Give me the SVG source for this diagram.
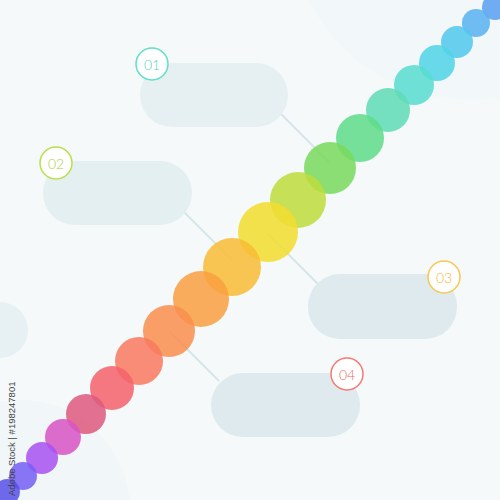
<svg xmlns="http://www.w3.org/2000/svg" width="500" height="500" viewBox="0 0 500 500">
<style>
.pill{fill:#e4eef1}
.badge{fill:#ffffff;stroke-width:1.5}
.num{font-family:Lato,"Noto Sans",sans-serif;font-weight:300;font-size:14px;text-anchor:middle;dominant-baseline:central}
.dot{opacity:0.86}
.conn{stroke:#d6e6ea;stroke-width:2;fill:none}
</style>
<rect width="500" height="500" fill="#f5f9fa"/>
<circle cx="470" cy="-80" r="180" fill="#f2f7f9"/>
<circle cx="20" cy="510" r="110" fill="#f1f6f8"/>
<circle cx="0" cy="330" r="28" fill="#e7f0f3"/>
<g id="connectors">
<line class="conn" x1="280" y1="113" x2="330" y2="163"/>
<line class="conn" x1="182" y1="210" x2="232" y2="260"/>
<line class="conn" x1="318" y1="284" x2="268" y2="234"/>
<line class="conn" x1="219" y1="381" x2="169" y2="331"/>
</g>
<g id="chain">
<circle class="dot" cx="495" cy="7" r="13" fill="#5a9ff0"/>
<circle class="dot" cx="476" cy="23" r="14" fill="#58b2f0"/>
<circle class="dot" cx="457" cy="42" r="16" fill="#52c8ee"/>
<circle class="dot" cx="437" cy="63" r="18" fill="#52d4e6"/>
<circle class="dot" cx="414" cy="85" r="20" fill="#58dccf"/>
<circle class="dot" cx="388" cy="110" r="22" fill="#5edcb4"/>
<circle class="dot" cx="360" cy="138" r="24" fill="#60dc88"/>
<circle class="dot" cx="330" cy="168" r="26" fill="#78da5c"/>
<circle class="dot" cx="298" cy="200" r="28" fill="#bedc3c"/>
<circle class="dot" cx="268" cy="232" r="30" fill="#f2dd2e"/>
<circle class="dot" cx="232" cy="267" r="29" fill="#f8bd36"/>
<circle class="dot" cx="201" cy="299" r="28" fill="#f9a040"/>
<circle class="dot" cx="169" cy="331" r="26" fill="#f98f4e"/>
<circle class="dot" cx="139" cy="361" r="24" fill="#f87a60"/>
<circle class="dot" cx="112" cy="388" r="22" fill="#f4636c"/>
<circle class="dot" cx="86" cy="414" r="20" fill="#de5a7e"/>
<circle class="dot" cx="63" cy="437" r="18" fill="#d955c4"/>
<circle class="dot" cx="42" cy="458" r="16" fill="#a653f0"/>
<circle class="dot" cx="23" cy="476" r="14" fill="#7760f4"/>
<circle class="dot" cx="7" cy="492" r="13" fill="#5752e8"/>
</g>
<g id="node1">
<rect class="pill" x="140" y="63" width="148" height="64" rx="32" style="fill:#e6f0f3"/>
<circle class="badge" cx="152" cy="64" r="16" stroke="#5ee0c8"/>
<text class="num" x="152" y="64" fill="#4fd3bd">01</text>
</g>
<g id="node2">
<rect class="pill" x="43" y="161" width="149" height="64" rx="32" style="fill:#e4eff2"/>
<circle class="badge" cx="56" cy="163" r="16" stroke="#b8e04a"/>
<text class="num" x="56" y="163" fill="#a8d23a">02</text>
</g>
<g id="node3">
<rect class="pill" x="308" y="274" width="149" height="65" rx="32" style="fill:#deeaee"/>
<circle class="badge" cx="444" cy="277" r="16" stroke="#f8c850"/>
<text class="num" x="444" y="277" fill="#f0b83a">03</text>
</g>
<g id="node4">
<rect class="pill" x="211" y="373" width="149" height="64" rx="32" style="fill:#deeaee"/>
<circle class="badge" cx="347" cy="374" r="16" stroke="#f87870"/>
<text class="num" x="347" y="374" fill="#f06a62">04</text>
</g>
<text x="15" y="496" transform="rotate(-90 15 496)" font-family="'Liberation Sans',Arial,sans-serif" font-size="9.5" fill="#444">Adobe Stock | #198247801</text>
</svg>
